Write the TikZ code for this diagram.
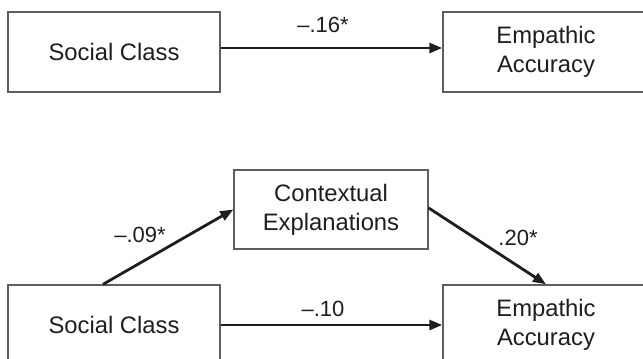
\documentclass[tikz,border=0pt]{standalone}
\usepackage{fontspec}
\setmainfont{Liberation Sans}
\usetikzlibrary{arrows.meta,positioning}
\definecolor{boxgray}{HTML}{5E5E5E}
\definecolor{inkgray}{HTML}{1E1E1E}
\tikzset{
  >={Triangle[length=13pt,width=10pt]},
  varbox/.style={
    rectangle,
    draw=boxgray, line width=1.4pt,
    text=inkgray,
    font=\fontsize{23.8}{29}\selectfont,
    align=center,
    minimum height=80pt},
  effect/.style={draw=inkgray, line width=2.8pt, ->},
  coef/.style={text=inkgray, font=\fontsize{22}{26}\selectfont, inner sep=0pt},
}

\begin{document}
\begin{tikzpicture}[x=1pt,y=-1pt]
  \useasboundingbox (0,0) rectangle (643,359);
  % total effect
  \node[varbox, minimum width=212pt] (class) at (114,52) {Social Class};
  \node[varbox, minimum width=206pt] (accuracy) at (546,52) {Empathic\\Accuracy};
  \draw[effect] ([yshift=4pt]class.east) -- ([yshift=4pt]accuracy.west);
  \node[coef] (total) at (323,25) {--.16*};
  % mediation model
  \node[varbox, minimum width=194pt, minimum height=79pt] (context) at (331,209.5) {Contextual\\Explanations};
  \node[varbox, minimum width=212pt] (classm) at (114,325) {Social Class};
  \node[varbox, minimum width=206pt] (accuracym) at (546,325) {Empathic\\Accuracy};
  \draw[effect] ([xshift=-11pt]classm.north) -- (context.west);
  \draw[effect] ([yshift=1.5pt]context.east) -- (accuracym.north);
  \draw[effect] (classm.east) -- (accuracym.west);
  \node[coef] (pathA) at (140,235) {--.09*};
  \node[coef] (pathB) at (518,238) {.20*};
  \node[coef] (direct) at (323,309) {--.10};
\end{tikzpicture}
\end{document}
